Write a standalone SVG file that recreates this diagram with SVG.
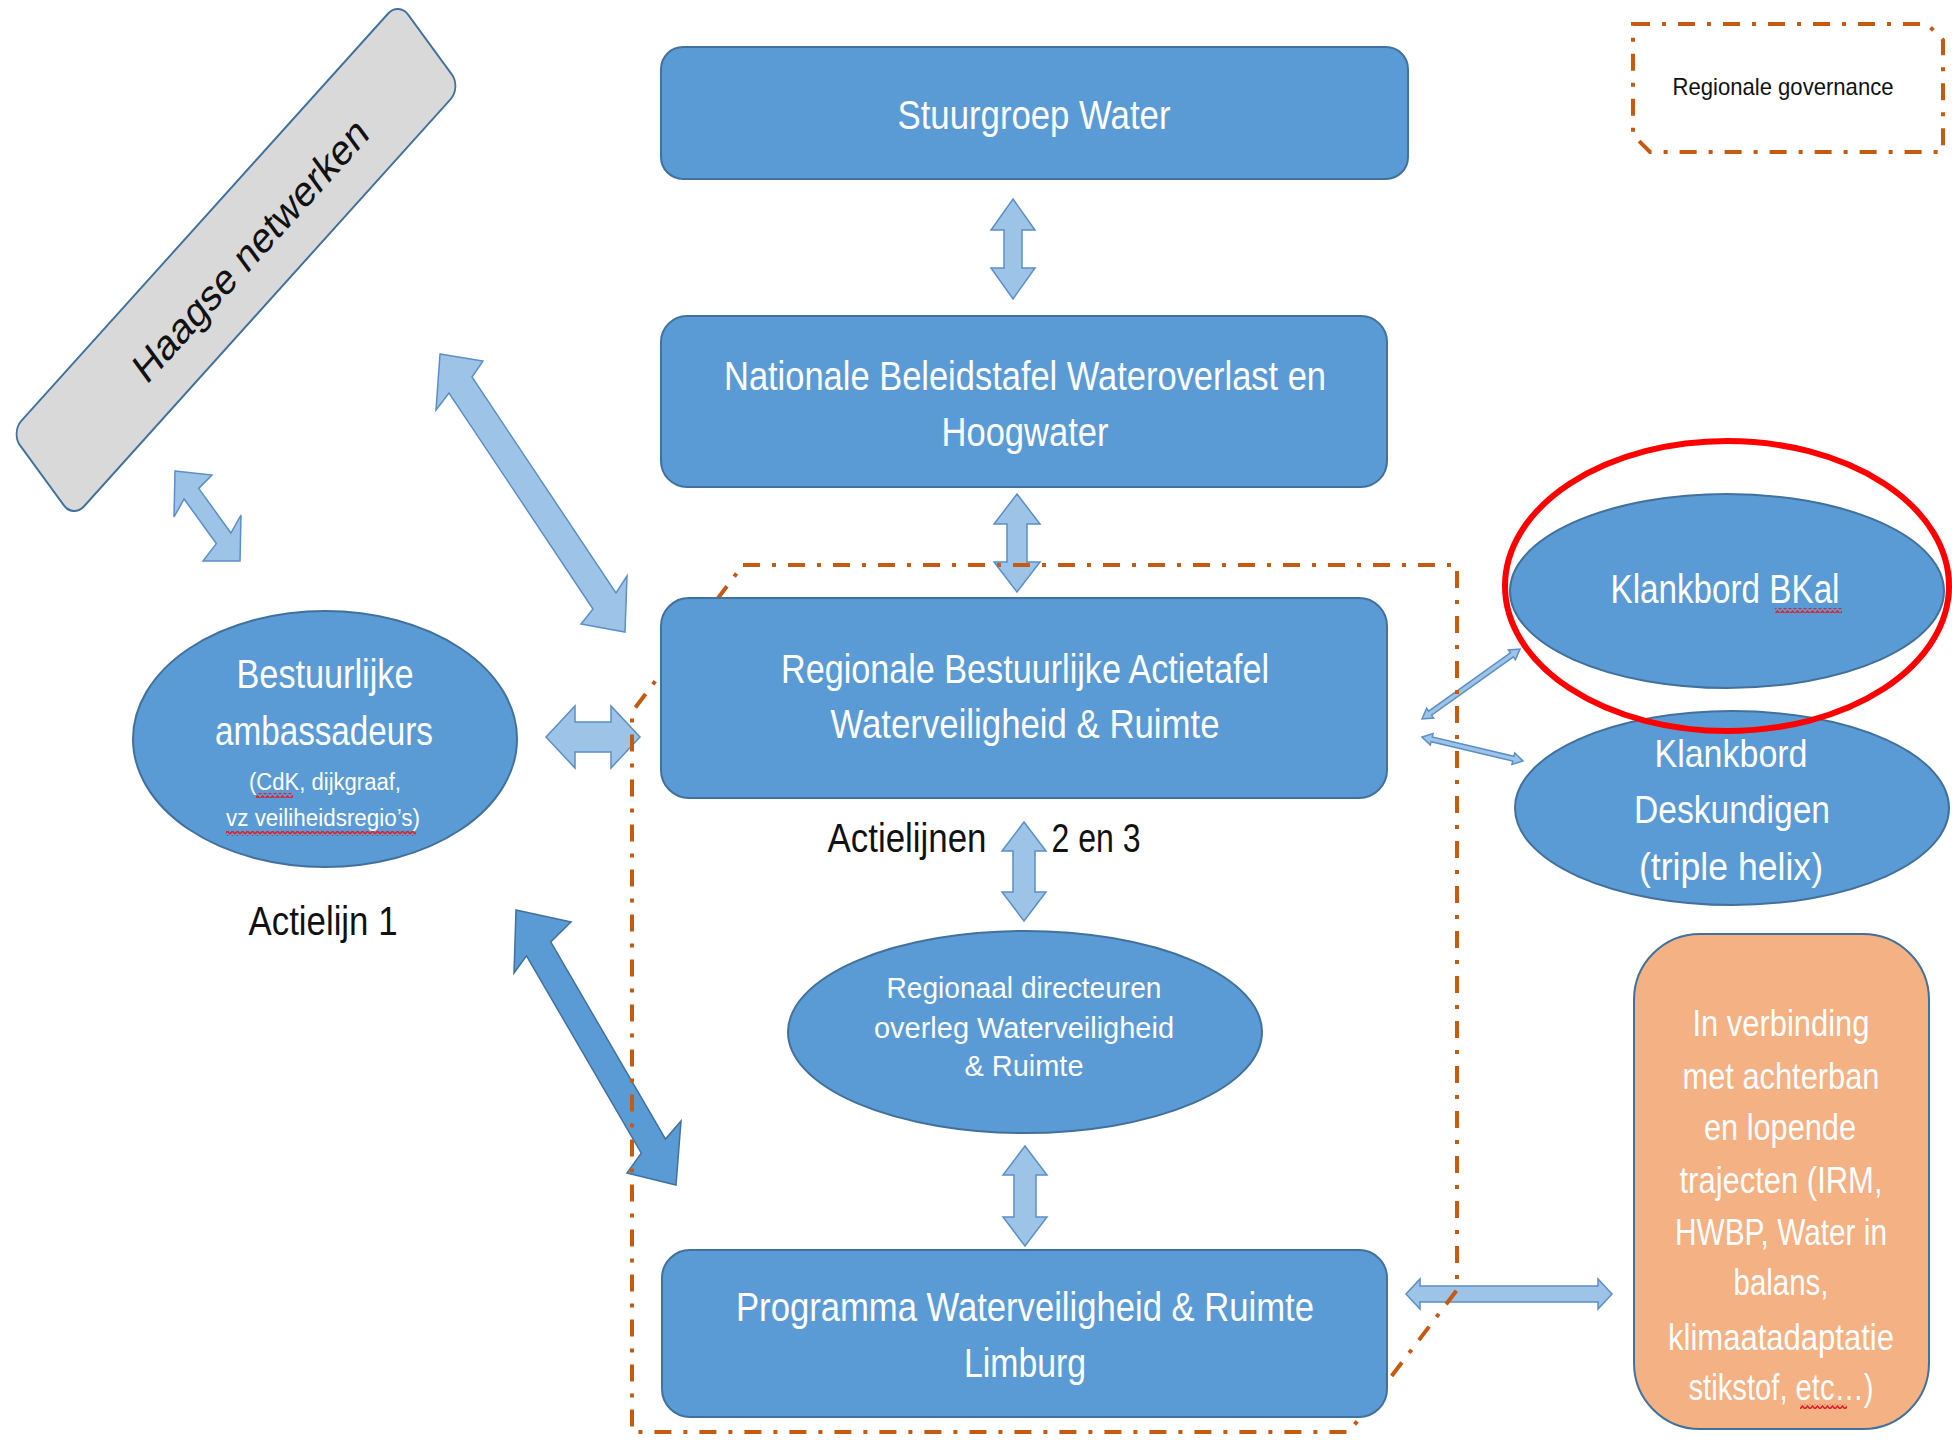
<svg xmlns="http://www.w3.org/2000/svg" width="1952" height="1440" viewBox="0 0 1952 1440">
<style>
.box{fill:#5B9BD5;stroke:#41719C;stroke-width:2}
.wt{fill:#FFFFFF;font-family:"Liberation Sans",Arial,sans-serif;text-anchor:middle}
.bt{fill:#111111;font-family:"Liberation Sans",Arial,sans-serif;text-anchor:middle}
.al{fill:#9DC3E6;stroke:#5B8FC7;stroke-width:1.5;stroke-linejoin:miter}
.ad{fill:#5B9BD5;stroke:#41719C;stroke-width:1.5}
.dash{fill:none;stroke:#C55A11;stroke-width:4;stroke-dasharray:17 12 4 12}
.sq{fill:url(#squiggle)}
</style>
<defs>
<pattern id="squiggle" patternUnits="userSpaceOnUse" width="5" height="5">
<path d="M0,4 L2.5,1 L5,4" fill="none" stroke="#E0202A" stroke-width="1.6"/>
</pattern>
</defs>
<rect width="1952" height="1440" fill="#FFFFFF"/>

<g id="connectors">
<polygon class="al" points="1013,199 1035,230 1022,230 1022,268 1035,268 1013,299 991,268 1004,268 1004,230 991,230"/>
<polygon class="al" points="1017,494 1040,524 1027,524 1027,562 1040,562 1017,592 994,562 1007,562 1007,524 994,524"/>
<polygon class="al" points="1024,822 1046,851 1035,851 1035,892 1046,892 1024,921 1002,892 1013,892 1013,851 1002,851"/>
<polygon class="al" points="1025,1146 1047,1175 1036,1175 1036,1217 1047,1217 1025,1246 1003,1217 1014,1217 1014,1175 1003,1175"/>
<polygon class="al" points="546,737 575,706 575,722 611,722 611,706 640,737 611,768 611,752 575,752 575,768"/>
<polygon class="al" points="1406,1294 1420,1279 1420,1286 1598,1286 1598,1279 1612,1294 1598,1309 1598,1302 1420,1302 1420,1309"/>
<polygon class="al" points="440,354 483,361 472,377 616,593 627,576 625,632 581,624 593,609 449,393 436,410"/>
<polygon class="al" points="175,471 212,475 198.7,488.4 230.9,533 241,515 240,561 203,561 216.3,543.6 184.1,499 174,517"/>
<polygon class="ad" points="516,910 571,922 550.7,941.9 665.5,1139.1 681,1121 676,1185 627,1173 641.3,1153.1 526.5,955.9 514,973"/>
<polygon class="al" stroke-width="1.2" points="1422,719 1426.6,708.3 1428.7,711.2 1510.4,652.8 1508.4,649.9 1520,649 1515.4,659.7 1513.4,656.8 1431.6,715.2 1433.6,718.1"/>
<polygon class="al" stroke-width="1.2" points="1422,737 1433.1,733.5 1432.3,736.9 1513.9,756.3 1514.7,752.9 1523,761 1511.9,764.5 1512.7,761.1 1431.1,741.7 1430.3,745.1"/>
</g>

<g id="regionale-governance-boundary">
<path class="dash" d="M743,565 H1457 V1290 L1349,1432 H632 V712 Z"/>
</g>

<g id="legend">
<path class="dash" d="M1633,24 H1927 L1943,40 V152 H1650 L1633,135 Z"/>
<text class="bt" x="1783" y="95" font-size="24" textLength="221" lengthAdjust="spacingAndGlyphs" fill="#222222">Regionale governance</text>
</g>

<g id="haagse-netwerken" transform="matrix(0.669,-0.743,0.590,0.807,236,260)">
<rect x="-290" y="-53" width="580" height="106" rx="16" fill="#D9D9D9" stroke="#41719C" stroke-width="2"/>
<text class="bt" x="18" y="18" font-size="40" textLength="335" lengthAdjust="spacingAndGlyphs" fill="#1E1E1E">Haagse netwerken</text>
</g>

<g id="stuurgroep-water">
<rect class="box" x="661" y="47" width="747" height="132" rx="22"/>
<text class="wt" x="1034" y="129" font-size="41" textLength="273" lengthAdjust="spacingAndGlyphs">Stuurgroep Water</text>
</g>

<g id="nationale-beleidstafel">
<rect class="box" x="661" y="316" width="726" height="171" rx="26"/>
<text class="wt" x="1025" y="390" font-size="41" textLength="602" lengthAdjust="spacingAndGlyphs">Nationale Beleidstafel Wateroverlast en</text>
<text class="wt" x="1025" y="446" font-size="41" textLength="167" lengthAdjust="spacingAndGlyphs">Hoogwater</text>
</g>

<g id="regionale-actietafel">
<rect class="box" x="661" y="598" width="726" height="200" rx="28"/>
<text class="wt" x="1025" y="683" font-size="40" textLength="488" lengthAdjust="spacingAndGlyphs">Regionale Bestuurlijke Actietafel</text>
<text class="wt" x="1025" y="738" font-size="40" textLength="389" lengthAdjust="spacingAndGlyphs">Waterveiligheid &amp; Ruimte</text>
</g>

<g id="actielijnen-label">
<text class="bt" x="907" y="852" font-size="40" textLength="159" lengthAdjust="spacingAndGlyphs">Actielijnen</text>
<text class="bt" x="1096" y="852" font-size="40" textLength="89" lengthAdjust="spacingAndGlyphs">2 en 3</text>
</g>

<g id="regionaal-directeuren">
<ellipse class="box" cx="1025" cy="1032" rx="237" ry="101"/>
<text class="wt" x="1024" y="998" font-size="30" textLength="275" lengthAdjust="spacingAndGlyphs">Regionaal directeuren</text>
<text class="wt" x="1024" y="1038" font-size="30" textLength="300" lengthAdjust="spacingAndGlyphs">overleg Waterveiligheid</text>
<text class="wt" x="1024" y="1076" font-size="30" textLength="119" lengthAdjust="spacingAndGlyphs">&amp; Ruimte</text>
</g>

<g id="programma-limburg">
<rect class="box" x="662" y="1250" width="725" height="167" rx="28"/>
<text class="wt" x="1025" y="1321" font-size="40" textLength="578" lengthAdjust="spacingAndGlyphs">Programma Waterveiligheid &amp; Ruimte</text>
<text class="wt" x="1025" y="1377" font-size="40" textLength="122" lengthAdjust="spacingAndGlyphs">Limburg</text>
</g>

<g id="bestuurlijke-ambassadeurs">
<ellipse class="box" cx="325" cy="739" rx="192" ry="128"/>
<text class="wt" x="325" y="688" font-size="40" textLength="177" lengthAdjust="spacingAndGlyphs">Bestuurlijke</text>
<text class="wt" x="324" y="745" font-size="40" textLength="218" lengthAdjust="spacingAndGlyphs">ambassadeurs</text>
<text class="wt" x="325" y="790" font-size="23" textLength="152" lengthAdjust="spacingAndGlyphs">(CdK, dijkgraaf,</text>
<text class="wt" x="323" y="826" font-size="23" textLength="194" lengthAdjust="spacingAndGlyphs">vz veiliheidsregio’s)</text>
<rect class="sq" x="256" y="793" width="37" height="5"/>
<rect class="sq" x="226" y="831" width="190" height="5"/>
</g>

<g id="actielijn-1">
<text class="bt" x="323" y="935" font-size="40" textLength="149" lengthAdjust="spacingAndGlyphs">Actielijn 1</text>
</g>

<g id="klankbord-bkal">
<ellipse class="box" cx="1727" cy="591" rx="217" ry="97"/>
<text class="wt" x="1725" y="603" font-size="40" textLength="229" lengthAdjust="spacingAndGlyphs">Klankbord BKal</text>
<rect class="sq" x="1775" y="608" width="67" height="5"/>
</g>

<g id="klankbord-deskundigen">
<ellipse class="box" cx="1732" cy="808" rx="217" ry="97"/>
<text class="wt" x="1731" y="767" font-size="39" textLength="153" lengthAdjust="spacingAndGlyphs">Klankbord</text>
<text class="wt" x="1732" y="823" font-size="39" textLength="196" lengthAdjust="spacingAndGlyphs">Deskundigen</text>
<text class="wt" x="1731" y="880" font-size="39" textLength="184" lengthAdjust="spacingAndGlyphs">(triple helix)</text>
</g>

<g id="achterban">
<rect x="1634" y="934" width="295" height="495" rx="66" fill="#F4B183" stroke="#41719C" stroke-width="2"/>
<text class="wt" x="1781" y="1036" font-size="37" textLength="177" lengthAdjust="spacingAndGlyphs">In verbinding</text>
<text class="wt" x="1781" y="1089" font-size="37" textLength="197" lengthAdjust="spacingAndGlyphs">met achterban</text>
<text class="wt" x="1780" y="1140" font-size="37" textLength="152" lengthAdjust="spacingAndGlyphs">en lopende</text>
<text class="wt" x="1781" y="1193" font-size="37" textLength="203" lengthAdjust="spacingAndGlyphs">trajecten (IRM,</text>
<text class="wt" x="1781" y="1245" font-size="37" textLength="212" lengthAdjust="spacingAndGlyphs">HWBP, Water in</text>
<text class="wt" x="1781" y="1295" font-size="37" textLength="95" lengthAdjust="spacingAndGlyphs">balans,</text>
<text class="wt" x="1781" y="1350" font-size="37" textLength="226" lengthAdjust="spacingAndGlyphs">klimaatadaptatie</text>
<text class="wt" x="1781" y="1400" font-size="37" textLength="185" lengthAdjust="spacingAndGlyphs">stikstof, etc…)</text>
<rect class="sq" x="1800" y="1404" width="47" height="5"/>
</g>

<g id="highlight">
<ellipse cx="1727" cy="586" rx="222" ry="145" fill="none" stroke="#FF0000" stroke-width="6"/>
</g>
</svg>
